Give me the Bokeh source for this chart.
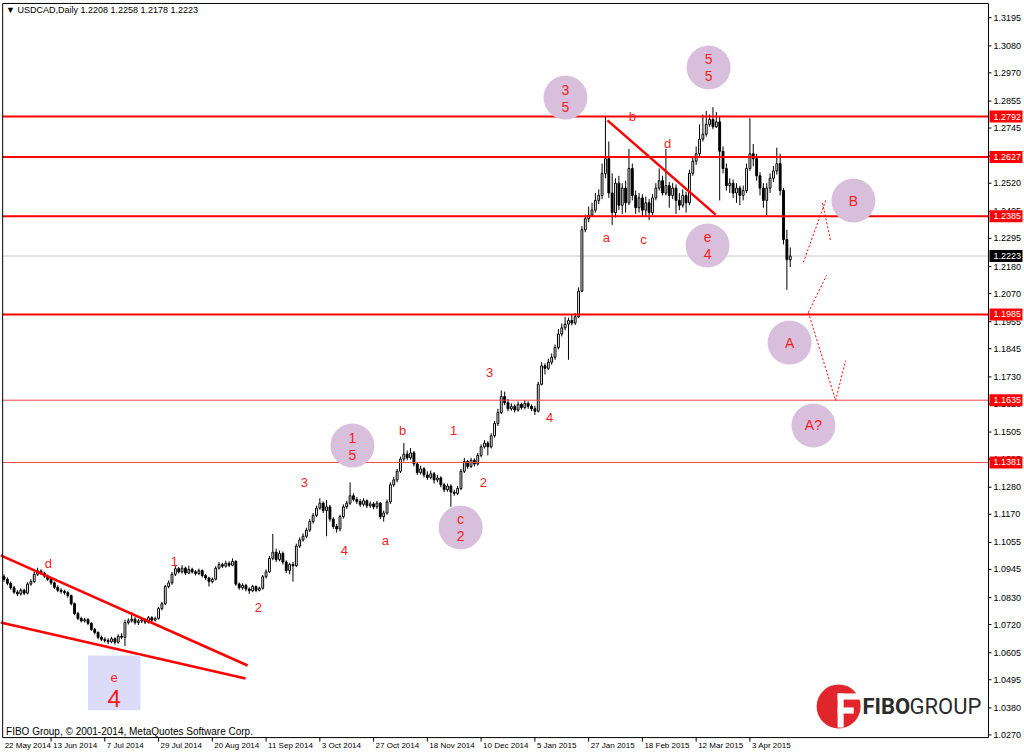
from bokeh.plotting import figure
from bokeh.models import Label, Range1d, ColumnDataSource
from bokeh.embed import file_html
from bokeh.resources import INLINE
from bokeh.core.properties import value

# ---------------- data (daily candles, USDCAD) ----------------
closes = [
    1.0905, 1.0888, 1.0870, 1.0852, 1.0845, 1.0860, 1.0848, 1.0885, 1.0895, 1.0925,
    1.0938, 1.0930, 1.0918, 1.0905, 1.0890, 1.0872, 1.0860, 1.0855, 1.0850, 1.0838,
    1.0805, 1.0765, 1.0745, 1.0735, 1.0740, 1.0725, 1.0700, 1.0688, 1.0668, 1.0660,
    1.0655, 1.0650, 1.0662, 1.0648, 1.0672, 1.0668, 1.0728, 1.0735, 1.0742, 1.0728,
    1.0735, 1.0740, 1.0730, 1.0748, 1.0738, 1.0745, 1.0785, 1.0805, 1.0875, 1.0890,
    1.0925, 1.0948, 1.0935, 1.0950, 1.0930, 1.0945, 1.0935, 1.0928, 1.0940, 1.0920,
    1.0910, 1.0895, 1.0905, 1.0950, 1.0965, 1.0958, 1.0970, 1.0962, 1.0978, 1.0885,
    1.0870, 1.0880, 1.0865, 1.0858, 1.0875, 1.0860, 1.0868, 1.0915, 1.0935, 1.0990,
    1.1015, 1.0985, 1.1010, 1.0975, 1.0940, 1.0965, 1.0960, 1.1040, 1.1065, 1.1080,
    1.1105, 1.1140, 1.1165, 1.1195, 1.1215, 1.1185, 1.1200, 1.1150, 1.1120, 1.1110,
    1.1160, 1.1200, 1.1215, 1.1245, 1.1230, 1.1222, 1.1210, 1.1225, 1.1205, 1.1212,
    1.1200, 1.1215, 1.1160, 1.1175, 1.1220, 1.1290, 1.1310, 1.1345, 1.1395, 1.1415,
    1.1400, 1.1420, 1.1375, 1.1340, 1.1355, 1.1330, 1.1320, 1.1335, 1.1310, 1.1318,
    1.1290, 1.1270, 1.1285, 1.1260, 1.1255, 1.1275, 1.1345, 1.1385, 1.1365, 1.1390,
    1.1375, 1.1410, 1.1445, 1.1460, 1.1445, 1.1490, 1.1540, 1.1585, 1.1650, 1.1625,
    1.1600, 1.1610, 1.1595, 1.1618, 1.1605, 1.1622, 1.1610, 1.1600, 1.1590, 1.1700,
    1.1775, 1.1765, 1.1790, 1.1810, 1.1850, 1.1905, 1.1930, 1.1945, 1.1960, 1.1950,
    1.1975, 1.2080, 1.2330, 1.2375, 1.2390, 1.2410, 1.2450, 1.2470, 1.2560, 1.2620,
    1.2480, 1.2400, 1.2520, 1.2430, 1.2500, 1.2440, 1.2580, 1.2470, 1.2420, 1.2460,
    1.2410, 1.2440, 1.2400, 1.2460, 1.2500, 1.2530, 1.2480, 1.2510, 1.2470, 1.2500,
    1.2450, 1.2430, 1.2470, 1.2440, 1.2560, 1.2610, 1.2640, 1.2700, 1.2720, 1.2760,
    1.2780, 1.2750, 1.2770, 1.2650, 1.2580, 1.2510, 1.2520, 1.2480, 1.2500, 1.2470,
    1.2490, 1.2580, 1.2640, 1.2620, 1.2550, 1.2500, 1.2450, 1.2500, 1.2540, 1.2570,
    1.2600, 1.2490, 1.2290, 1.2208, 1.2223,
]
opens = [
    1.0915, 1.0905, 1.0888, 1.0870, 1.0852, 1.0845, 1.0860, 1.0848, 1.0885, 1.0895,
    1.0925, 1.0938, 1.0930, 1.0918, 1.0905, 1.0890, 1.0872, 1.0860, 1.0855, 1.0850,
    1.0838, 1.0805, 1.0765, 1.0745, 1.0735, 1.0740, 1.0725, 1.0700, 1.0688, 1.0668,
    1.0660, 1.0655, 1.0650, 1.0662, 1.0648, 1.0672, 1.0668, 1.0728, 1.0735, 1.0742,
    1.0728, 1.0735, 1.0740, 1.0730, 1.0748, 1.0738, 1.0745, 1.0785, 1.0805, 1.0875,
    1.0890, 1.0925, 1.0948, 1.0935, 1.0950, 1.0930, 1.0945, 1.0935, 1.0928, 1.0940,
    1.0920, 1.0910, 1.0895, 1.0905, 1.0950, 1.0965, 1.0958, 1.0970, 1.0962, 1.0978,
    1.0885, 1.0870, 1.0880, 1.0865, 1.0858, 1.0875, 1.0860, 1.0868, 1.0915, 1.0935,
    1.0990, 1.1015, 1.0985, 1.1010, 1.0975, 1.0940, 1.0965, 1.0960, 1.1040, 1.1065,
    1.1080, 1.1105, 1.1140, 1.1165, 1.1195, 1.1215, 1.1185, 1.1200, 1.1150, 1.1120,
    1.1110, 1.1160, 1.1200, 1.1215, 1.1245, 1.1230, 1.1222, 1.1210, 1.1225, 1.1205,
    1.1212, 1.1200, 1.1215, 1.1160, 1.1175, 1.1220, 1.1290, 1.1310, 1.1345, 1.1395,
    1.1415, 1.1400, 1.1420, 1.1375, 1.1340, 1.1355, 1.1330, 1.1320, 1.1335, 1.1310,
    1.1318, 1.1290, 1.1270, 1.1285, 1.1260, 1.1255, 1.1275, 1.1345, 1.1385, 1.1365,
    1.1390, 1.1375, 1.1410, 1.1445, 1.1460, 1.1445, 1.1490, 1.1540, 1.1585, 1.1650,
    1.1625, 1.1600, 1.1610, 1.1595, 1.1618, 1.1605, 1.1622, 1.1610, 1.1600, 1.1590,
    1.1700, 1.1775, 1.1765, 1.1790, 1.1810, 1.1850, 1.1905, 1.1930, 1.1945, 1.1960,
    1.1950, 1.1975, 1.2080, 1.2330, 1.2375, 1.2390, 1.2410, 1.2450, 1.2470, 1.2560,
    1.2620, 1.2480, 1.2400, 1.2520, 1.2430, 1.2500, 1.2440, 1.2580, 1.2470, 1.2420,
    1.2460, 1.2410, 1.2440, 1.2400, 1.2460, 1.2500, 1.2530, 1.2480, 1.2510, 1.2470,
    1.2500, 1.2450, 1.2430, 1.2470, 1.2440, 1.2560, 1.2610, 1.2640, 1.2700, 1.2720,
    1.2760, 1.2780, 1.2750, 1.2770, 1.2650, 1.2580, 1.2510, 1.2520, 1.2480, 1.2500,
    1.2470, 1.2490, 1.2580, 1.2640, 1.2620, 1.2550, 1.2500, 1.2450, 1.2500, 1.2540,
    1.2570, 1.2600, 1.2490, 1.2290, 1.2208,
]
highs = [
    1.0925, 1.0912, 1.0895, 1.0878, 1.0860, 1.0868, 1.0866, 1.0892, 1.0905, 1.0935,
    1.0952, 1.0945, 1.0936, 1.0924, 1.0912, 1.0896, 1.0880, 1.0868, 1.0862, 1.0856,
    1.0842, 1.0810, 1.0772, 1.0752, 1.0748, 1.0746, 1.0730, 1.0706, 1.0692, 1.0675,
    1.0668, 1.0664, 1.0670, 1.0668, 1.0680, 1.0685, 1.0740, 1.0745, 1.0770, 1.0750,
    1.0742, 1.0748, 1.0746, 1.0755, 1.0754, 1.0752, 1.0792, 1.0812, 1.0882, 1.0900,
    1.0935, 1.0958, 1.0955, 1.0962, 1.0956, 1.0960, 1.0952, 1.0942, 1.0948, 1.0945,
    1.0926, 1.0915, 1.0912, 1.0958, 1.0975, 1.0972, 1.0980, 1.0978, 1.0990, 1.0982,
    1.0892, 1.0888, 1.0886, 1.0872, 1.0882, 1.0880, 1.0875, 1.0922, 1.0945, 1.1000,
    1.1090, 1.1030, 1.1022, 1.1018, 1.0982, 1.0972, 1.0975, 1.1050, 1.1075, 1.1092,
    1.1115, 1.1150, 1.1175, 1.1205, 1.1235, 1.1222, 1.1228, 1.1208, 1.1158, 1.1130,
    1.1168, 1.1210, 1.1225, 1.1300, 1.1255, 1.1240, 1.1232, 1.1235, 1.1230, 1.1222,
    1.1220, 1.1224, 1.1220, 1.1185, 1.1230, 1.1300, 1.1322, 1.1355, 1.1405, 1.1460,
    1.1430, 1.1440, 1.1428, 1.1382, 1.1368, 1.1362, 1.1345, 1.1348, 1.1342, 1.1330,
    1.1325, 1.1298, 1.1295, 1.1292, 1.1270, 1.1285, 1.1355, 1.1400, 1.1392, 1.1400,
    1.1398, 1.1420, 1.1455, 1.1472, 1.1468, 1.1500, 1.1550, 1.1600, 1.1675, 1.1670,
    1.1640, 1.1622, 1.1618, 1.1630, 1.1625, 1.1635, 1.1630, 1.1618, 1.1612, 1.1710,
    1.1790, 1.1785, 1.1805, 1.1825, 1.1862, 1.1925, 1.1948, 1.1975, 1.1972, 1.1985,
    1.1990, 1.2095, 1.2345, 1.2392, 1.2425, 1.2440, 1.2480, 1.2495, 1.2600, 1.2795,
    1.2690, 1.2560, 1.2540, 1.2550, 1.2520, 1.2530, 1.2660, 1.2600, 1.2490, 1.2480,
    1.2475, 1.2465, 1.2455, 1.2475, 1.2520, 1.2580, 1.2550, 1.2660, 1.2525, 1.2520,
    1.2515, 1.2480, 1.2495, 1.2485, 1.2575, 1.2625, 1.2670, 1.2760, 1.2800, 1.2815,
    1.2800, 1.2830, 1.2810, 1.2790, 1.2670, 1.2600, 1.2540, 1.2535, 1.2520, 1.2510,
    1.2510, 1.2600, 1.2785, 1.2680, 1.2640, 1.2565, 1.2520, 1.2520, 1.2560, 1.2590,
    1.2665, 1.2640, 1.2500, 1.2330, 1.2258,
]
lows = [
    1.0895, 1.0880, 1.0862, 1.0845, 1.0836, 1.0838, 1.0840, 1.0843, 1.0878, 1.0890,
    1.0918, 1.0922, 1.0910, 1.0898, 1.0882, 1.0865, 1.0852, 1.0846, 1.0842, 1.0830,
    1.0798, 1.0758, 1.0738, 1.0728, 1.0728, 1.0718, 1.0694, 1.0680, 1.0660, 1.0652,
    1.0646, 1.0640, 1.0644, 1.0638, 1.0642, 1.0660, 1.0632, 1.0720, 1.0728, 1.0720,
    1.0718, 1.0726, 1.0722, 1.0724, 1.0730, 1.0732, 1.0740, 1.0778, 1.0800, 1.0868,
    1.0882, 1.0918, 1.0928, 1.0928, 1.0922, 1.0925, 1.0928, 1.0920, 1.0922, 1.0912,
    1.0902, 1.0875, 1.0888, 1.0900, 1.0944, 1.0950, 1.0952, 1.0955, 1.0958, 1.0878,
    1.0862, 1.0862, 1.0855, 1.0845, 1.0852, 1.0852, 1.0855, 1.0862, 1.0908, 1.0930,
    1.0982, 1.0975, 1.0978, 1.0965, 1.0930, 1.0925, 1.0895, 1.0955, 1.1032, 1.1058,
    1.1072, 1.1098, 1.1132, 1.1158, 1.1188, 1.1175, 1.1080, 1.1140, 1.1110, 1.1095,
    1.1100, 1.1152, 1.1192, 1.1208, 1.1222, 1.1212, 1.1200, 1.1202, 1.1195, 1.1196,
    1.1190, 1.1192, 1.1150, 1.1140, 1.1168, 1.1212, 1.1282, 1.1300, 1.1338, 1.1385,
    1.1390, 1.1392, 1.1365, 1.1330, 1.1332, 1.1320, 1.1310, 1.1312, 1.1295, 1.1300,
    1.1280, 1.1260, 1.1262, 1.1200, 1.1245, 1.1248, 1.1268, 1.1338, 1.1355, 1.1358,
    1.1365, 1.1368, 1.1402, 1.1438, 1.1410, 1.1438, 1.1482, 1.1530, 1.1578, 1.1615,
    1.1590, 1.1592, 1.1585, 1.1588, 1.1596, 1.1598, 1.1600, 1.1590, 1.1575, 1.1585,
    1.1695, 1.1740, 1.1758, 1.1780, 1.1800, 1.1842, 1.1895, 1.1920, 1.1800, 1.1940,
    1.1942, 1.1970, 1.2075, 1.2320, 1.2360, 1.2385, 1.2400, 1.2435, 1.2455, 1.2540,
    1.2460, 1.2350, 1.2380, 1.2410, 1.2395, 1.2400, 1.2430, 1.2450, 1.2395, 1.2400,
    1.2385, 1.2385, 1.2370, 1.2390, 1.2450, 1.2490, 1.2470, 1.2470, 1.2420, 1.2455,
    1.2395, 1.2410, 1.2420, 1.2400, 1.2430, 1.2550, 1.2595, 1.2630, 1.2690, 1.2710,
    1.2750, 1.2740, 1.2745, 1.2450, 1.2560, 1.2490, 1.2480, 1.2460, 1.2440, 1.2430,
    1.2450, 1.2480, 1.2570, 1.2590, 1.2530, 1.2470, 1.2420, 1.2390, 1.2480, 1.2525,
    1.2555, 1.2470, 1.2270, 1.2085, 1.2178,
]

symbol = "USDCAD,Daily"
date_ticks = [-2, 14, 30, 46, 62, 78, 94, 110, 126, 142, 158, 174, 190, 206, 222]
date_labels = ["22 May 2014", "13 Jun 2014", "7 Jul 2014", "29 Jul 2014", "20 Aug 2014",
               "11 Sep 2014", "3 Oct 2014", "27 Oct 2014", "18 Nov 2014", "10 Dec 2014",
               "5 Jan 2015", "27 Jan 2015", "18 Feb 2015", "12 Mar 2015", "3 Apr 2015"]
price_ticks = [1.3195, 1.3080, 1.2970, 1.2855, 1.2745, 1.2630, 1.2520, 1.2405, 1.2295,
               1.2180, 1.2070, 1.1955, 1.1845, 1.1730, 1.1620, 1.1505, 1.1395, 1.1280,
               1.1170, 1.1055, 1.0945, 1.0830, 1.0720, 1.0605, 1.0495, 1.0380, 1.0270]
strong_levels = [1.2792, 1.2627, 1.2385, 1.1985]
weak_levels = [1.1635, 1.1381]

# wave labels (x = bar index, y = price)
wave_text = ["d", "1", "2", "3", "4", "a", "b", "1", "2", "3", "4", "a", "b", "c", "d"]
wave_x = [13.2, 50.7, 75.7, 89.4, 101.3, 113.5, 118.6, 133.8, 142.7, 144.5, 162.4, 179.3, 187.0, 190.3, 197.5]
wave_y = [1.0970, 1.0978, 1.0790, 1.1299, 1.1022, 1.1063, 1.1511, 1.1511, 1.1299, 1.1748,
          1.1564, 1.2299, 1.2792, 1.2290, 1.2682]

# circled wave labels
circ_x = [103.7, 135.9, 167.1, 209.7, 209.4, 252.8, 233.8, 240.9]
circ_y = [1.1450, 1.1116, 1.2869, 1.2992, 1.2266, 1.2449, 1.1870, 1.1532]
circ_top = ["1", "c", "3", "5", "e", "B", "A", "A?"]
circ_bot = ["5", "2", "5", "5", "4", "", "", ""]

# trend lines
wedge_up_x, wedge_up_y = [-1.0, 72.5], [1.1002, 1.0553]
wedge_lo_x, wedge_lo_y = [-1.0, 71.9], [1.0728, 1.0500]
tri_x, tri_y = [179.6, 211.8], [1.2776, 1.2392]

# dotted projections
proj_paths = [
    ([237.9, 244.8], [1.2197, 1.2458]),
    ([243.6, 246.0], [1.2440, 1.2286]),
    ([239.4, 244.8], [1.1993, 1.2144]),
    ([239.4, 247.5], [1.1993, 1.1634]),
    ([247.5, 250.5], [1.1634, 1.1797]),
]

RED = "#FF0000"
TXT = "#F01E1E"
CIRC = "#D8C0DD"
FONT = "Liberation Sans"

# frame geometry (bar units / price units)
AX_X = 293.0        # right price axis
LEFT_X = -0.40
TOP_Y = 1.3253
AX_Y = 1.0259       # bottom time axis
PX_X = 1 / 3.36     # one pixel in bar units
PX_Y = 1 / 2452     # one pixel in price units

p = figure(width=1024, height=753, output_backend="svg", toolbar_location=None,
           x_range=Range1d(-1.042, 303.72), y_range=Range1d(1.01941, 1.32651),
           x_axis_location=None, y_axis_location=None,
           min_border_left=0, min_border_top=0, min_border_right=0, min_border_bottom=0)
p.grid.visible = False
p.outline_line_color = None
p.background_fill_color = "white"
p.border_fill_color = "white"

# last price line (behind candles)
p.segment(x0=[LEFT_X], x1=[AX_X], y0=[closes[-1]], y1=[closes[-1]], line_color="#C8C8C8", line_width=1)

# candles
n = len(closes)
up = [i for i in range(n) if closes[i] >= opens[i]]
dn = [i for i in range(n) if closes[i] < opens[i]]


def src(ids):
    return ColumnDataSource(dict(
        x=ids,
        top=[max(opens[i], closes[i]) for i in ids],
        bottom=[min(opens[i], closes[i]) for i in ids],
        high=[highs[i] for i in ids],
        low=[lows[i] for i in ids]))


s_up, s_dn = src(up), src(dn)
for s in (s_up, s_dn):
    p.segment(x0="x", y0="low", x1="x", y1="high", source=s, line_color="black", line_width=1)
p.vbar(x="x", width=0.55, top="top", bottom="bottom", source=s_up,
       fill_color="white", line_color="black", line_width=1)
p.vbar(x="x", width=0.55, top="top", bottom="bottom", source=s_dn,
       fill_color="black", line_color="black", line_width=1)

# horizontal levels
p.segment(x0=[LEFT_X] * len(strong_levels), x1=[AX_X] * len(strong_levels),
          y0=strong_levels, y1=strong_levels, line_color=RED, line_width=2)
p.segment(x0=[LEFT_X] * len(weak_levels), x1=[AX_X] * len(weak_levels),
          y0=weak_levels, y1=weak_levels, line_color="#F04848", line_width=1)

# trend lines
p.line(wedge_up_x, wedge_up_y, line_color=RED, line_width=2.5)
p.line(wedge_lo_x, wedge_lo_y, line_color=RED, line_width=2.5)
p.line(tri_x, tri_y, line_color=RED, line_width=2.5)
for xs, ys in proj_paths:
    p.line(xs, ys, line_color=RED, line_width=1, line_dash="2 2")

# "e 4" box
box_x0, box_x1, box_y0, box_y1 = 25.0, 40.6, 1.0370, 1.0594
p.quad(left=[box_x0], right=[box_x1], bottom=[box_y0], top=[box_y1],
       fill_color="#DCDCF8", line_color=None)
p.add_layout(Label(x=(box_x0 + box_x1) / 2, y=1.0504, text="e", text_align="center",
                   text_baseline="middle", text_color=TXT, text_font=FONT, text_font_size="13px"))
p.add_layout(Label(x=(box_x0 + box_x1) / 2, y=1.0418, text="4", text_align="center",
                   text_baseline="middle", text_color=TXT, text_font=FONT, text_font_size="24px"))

# circles
p.scatter(circ_x, circ_y, marker="circle", size=44, fill_color=CIRC, line_color=None)
for cx, cy, t1, t2 in zip(circ_x, circ_y, circ_top, circ_bot):
    if t2:
        p.add_layout(Label(x=cx, y=cy, y_offset=8, text=t1, text_align="center",
                           text_baseline="middle", text_color=TXT, text_font=FONT,
                           text_font_size="14px"))
        p.add_layout(Label(x=cx, y=cy, y_offset=-9, text=t2, text_align="center",
                           text_baseline="middle", text_color=TXT, text_font=FONT,
                           text_font_size="14px"))
    else:
        p.add_layout(Label(x=cx, y=cy, text=t1, text_align="center",
                           text_baseline="middle", text_color=TXT, text_font=FONT,
                           text_font_size="14px"))

# wave labels
for t, x, y in zip(wave_text, wave_x, wave_y):
    p.add_layout(Label(x=x, y=y, text=t, text_align="center", text_baseline="middle",
                       text_color=TXT, text_font=FONT, text_font_size="13px"))

# ---- frame and axes (drawn through the scales) ----
p.line([LEFT_X, AX_X, AX_X, LEFT_X, LEFT_X], [TOP_Y, TOP_Y, AX_Y, AX_Y, TOP_Y],
       line_color="black", line_width=1)
# price axis ticks + labels
p.segment(x0=[AX_X] * len(price_ticks), x1=[AX_X + 3 * PX_X] * len(price_ticks),
          y0=price_ticks, y1=price_ticks, line_color="black", line_width=1)
p.text(x=[AX_X + 5 * PX_X] * len(price_ticks), y=price_ticks,
       text=[f"{t:.4f}" for t in price_ticks], text_font=value(FONT), text_font_size="9px",
       text_align="left", text_baseline="middle", text_color="black")
# time axis ticks + labels
tick_in = [t for t in date_ticks if t > LEFT_X]
p.segment(x0=tick_in, x1=tick_in, y0=[AX_Y] * len(tick_in), y1=[AX_Y - 4 * PX_Y] * len(tick_in),
          line_color="black", line_width=1)
p.text(x=[max(t, LEFT_X) + 2 * PX_X for t in date_ticks], y=[AX_Y - 8 * PX_Y] * len(date_ticks),
       text=date_labels, text_font=value(FONT), text_font_size="8px",
       text_align="left", text_baseline="middle", text_color="black")

# price boxes
all_levels = strong_levels + weak_levels
box_cx, box_w, box_h = AX_X + 17.5 * PX_X, 33 * PX_X, 12 * PX_Y
p.rect(x=[box_cx] * len(all_levels), y=all_levels, width=box_w, height=box_h,
       fill_color=RED, line_color=None)
p.text(x=[AX_X + 5 * PX_X] * len(all_levels), y=all_levels,
       text=[f"{lv:.4f}" for lv in all_levels], text_font=value(FONT), text_font_size="9px",
       text_align="left", text_baseline="middle", text_color="white")
p.rect(x=[box_cx], y=[closes[-1]], width=box_w, height=box_h, fill_color="black", line_color=None)
p.text(x=[AX_X + 5 * PX_X], y=[closes[-1]], text=[f"{closes[-1]:.4f}"],
       text_font=value(FONT), text_font_size="9px",
       text_align="left", text_baseline="middle", text_color="white")

# title and footer
title = f"\u25bc  {symbol}  {opens[-1]:.4f} {highs[-1]:.4f} {lows[-1]:.4f} {closes[-1]:.4f}"
p.add_layout(Label(x=0.6, y=1.3228, text=title, text_align="left", text_baseline="middle",
                   text_color="black", text_font=FONT, text_font_size="9px"))
p.add_layout(Label(x=0.6, y=1.0284, text="FIBO Group, \u00a9 2001-2014, MetaQuotes Software Corp.",
                   text_align="left", text_baseline="middle", text_color="black",
                   text_font=FONT, text_font_size="10px"))

# logo
p.scatter([248.4], [1.0386], marker="circle", size=44, fill_color="#E0262B", line_color=None)
p.quad(left=[248.1, 248.1, 248.1], right=[254.9, 249.9, 252.9],
       bottom=[1.0414, 1.0300, 1.0357], top=[1.0439, 1.0439, 1.0382],
       fill_color="white", line_color=None)
p.add_layout(Label(x=255.5, y=1.0386, text="FIBO", text_align="left", text_baseline="middle",
                   text_color="#2B2B2B", text_font="Roboto", text_font_style="bold",
                   text_font_size="22px"))
p.add_layout(Label(x=269.5, y=1.0386, text="GROUP", text_align="left", text_baseline="middle",
                   text_color="#2B2B2B", text_font="Roboto", text_font_size="22px"))

open("out.html", "w").write(file_html(p, INLINE))
